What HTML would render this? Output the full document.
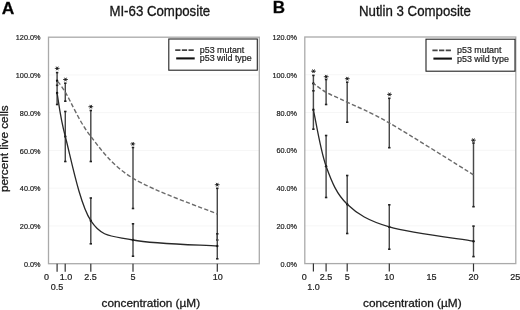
<!DOCTYPE html>
<html><head><meta charset="utf-8"><style>
html,body{margin:0;padding:0;background:#fff;width:520px;height:310px;overflow:hidden}
svg{display:block;font-family:"Liberation Sans", sans-serif;will-change:transform}
text{stroke:#222;stroke-width:0.3px}
text.yt{stroke-width:0.2px}
text.xt{stroke-width:0.22px}
text.lg{stroke-width:0.2px}
</style></head><body>
<svg width="520" height="310" viewBox="0 0 520 310">
<line x1="48.5" y1="225.95" x2="259.3" y2="225.95" stroke="#f6f6f6" stroke-width="1"/>
<line x1="48.5" y1="188.20" x2="259.3" y2="188.20" stroke="#f6f6f6" stroke-width="1"/>
<line x1="48.5" y1="150.45" x2="259.3" y2="150.45" stroke="#f6f6f6" stroke-width="1"/>
<line x1="48.5" y1="112.70" x2="259.3" y2="112.70" stroke="#f6f6f6" stroke-width="1"/>
<line x1="48.5" y1="74.95" x2="259.3" y2="74.95" stroke="#f6f6f6" stroke-width="1"/>
<rect x="48.50" y="37.20" width="210.80" height="226.50" fill="none" stroke="#aaaaaa" stroke-width="1.3"/>
<text class="yt" transform="translate(40.50,266.80) scale(1,1.1)" font-size="7.3" text-anchor="end" fill="#222">0.0%</text>
<text class="yt" transform="translate(40.50,229.05) scale(1,1.1)" font-size="7.3" text-anchor="end" fill="#222">20.0%</text>
<text class="yt" transform="translate(40.50,191.30) scale(1,1.1)" font-size="7.3" text-anchor="end" fill="#222">40.0%</text>
<text class="yt" transform="translate(40.50,153.55) scale(1,1.1)" font-size="7.3" text-anchor="end" fill="#222">60.0%</text>
<text class="yt" transform="translate(40.50,115.80) scale(1,1.1)" font-size="7.3" text-anchor="end" fill="#222">80.0%</text>
<text class="yt" transform="translate(40.50,78.05) scale(1,1.1)" font-size="7.3" text-anchor="end" fill="#222">100.0%</text>
<text class="yt" transform="translate(40.50,40.30) scale(1,1.1)" font-size="7.3" text-anchor="end" fill="#222">120.0%</text>
<line x1="57.10" y1="263.70" x2="57.10" y2="271.70" stroke="#333" stroke-width="1.2"/>
<line x1="65.20" y1="263.70" x2="65.20" y2="271.70" stroke="#333" stroke-width="1.2"/>
<line x1="90.80" y1="263.70" x2="90.80" y2="271.70" stroke="#333" stroke-width="1.2"/>
<line x1="133.00" y1="263.70" x2="133.00" y2="271.70" stroke="#333" stroke-width="1.2"/>
<line x1="217.30" y1="263.70" x2="217.30" y2="271.70" stroke="#333" stroke-width="1.2"/>
<text class="xt" x="46.60" y="280.00" font-size="9" text-anchor="middle" fill="#222">0</text>
<text class="xt" x="66.00" y="280.00" font-size="9" text-anchor="middle" fill="#222">1.0</text>
<text class="xt" x="90.60" y="280.00" font-size="9" text-anchor="middle" fill="#222">2.5</text>
<text class="xt" x="133.00" y="280.00" font-size="9" text-anchor="middle" fill="#222">5</text>
<text class="xt" x="217.80" y="280.00" font-size="9" text-anchor="middle" fill="#222">10</text>
<text class="xt" x="57.00" y="289.60" font-size="9" text-anchor="middle" fill="#222">0.5</text>
<line x1="57.10" y1="72.60" x2="57.10" y2="104.50" stroke="#484848" stroke-width="1.45"/>
<rect x="55.90" y="71.80" width="2.4" height="1.6" fill="#222"/>
<rect x="55.90" y="84.50" width="2.4" height="1.6" fill="#222"/>
<rect x="55.90" y="103.70" width="2.4" height="1.6" fill="#222"/>
<circle cx="57.10" cy="80.80" r="1.2" fill="#111"/>
<circle cx="57.10" cy="93.00" r="1.2" fill="#111"/>
<line x1="65.30" y1="83.20" x2="65.30" y2="101.20" stroke="#484848" stroke-width="1.45"/>
<rect x="64.10" y="82.40" width="2.4" height="1.6" fill="#222"/>
<rect x="64.10" y="100.40" width="2.4" height="1.6" fill="#222"/>
<line x1="65.30" y1="111.50" x2="65.30" y2="161.50" stroke="#484848" stroke-width="1.45"/>
<rect x="64.10" y="110.70" width="2.4" height="1.6" fill="#222"/>
<rect x="64.10" y="160.70" width="2.4" height="1.6" fill="#222"/>
<circle cx="65.30" cy="136.50" r="1.2" fill="#111"/>
<line x1="90.80" y1="110.50" x2="90.80" y2="161.50" stroke="#484848" stroke-width="1.45"/>
<rect x="89.60" y="109.70" width="2.4" height="1.6" fill="#222"/>
<rect x="89.60" y="160.70" width="2.4" height="1.6" fill="#222"/>
<line x1="90.80" y1="198.00" x2="90.80" y2="243.80" stroke="#484848" stroke-width="1.45"/>
<rect x="89.60" y="197.20" width="2.4" height="1.6" fill="#222"/>
<rect x="89.60" y="243.00" width="2.4" height="1.6" fill="#222"/>
<circle cx="90.80" cy="220.70" r="1.2" fill="#111"/>
<line x1="133.00" y1="147.50" x2="133.00" y2="208.50" stroke="#484848" stroke-width="1.45"/>
<rect x="131.80" y="146.70" width="2.4" height="1.6" fill="#222"/>
<rect x="131.80" y="207.70" width="2.4" height="1.6" fill="#222"/>
<line x1="133.00" y1="223.80" x2="133.00" y2="256.20" stroke="#484848" stroke-width="1.45"/>
<rect x="131.80" y="223.00" width="2.4" height="1.6" fill="#222"/>
<rect x="131.80" y="255.40" width="2.4" height="1.6" fill="#222"/>
<circle cx="133.00" cy="240.00" r="1.2" fill="#111"/>
<line x1="217.30" y1="188.30" x2="217.30" y2="240.00" stroke="#484848" stroke-width="1.45"/>
<rect x="216.10" y="187.50" width="2.4" height="1.6" fill="#222"/>
<rect x="216.10" y="239.20" width="2.4" height="1.6" fill="#222"/>
<line x1="217.30" y1="233.80" x2="217.30" y2="258.80" stroke="#484848" stroke-width="1.45"/>
<rect x="216.10" y="233.00" width="2.4" height="1.6" fill="#222"/>
<rect x="216.10" y="258.00" width="2.4" height="1.6" fill="#222"/>
<circle cx="217.30" cy="246.00" r="1.2" fill="#111"/>
<path d="M57.10,80.80 C58.47,82.70 59.68,82.92 65.30,92.20 C70.92,101.48 79.52,122.15 90.80,136.50 C102.08,150.85 111.92,165.38 133.00,178.30 C154.08,191.22 203.25,208.05 217.30,214.00" fill="none" stroke="#6a6a6a" stroke-width="1.4" stroke-dasharray="4.3 2.2" stroke-dashoffset="5.57"/>
<path d="M57.10,93.00 C58.47,100.25 59.68,115.22 65.30,136.50 C70.92,157.78 79.52,203.45 90.80,220.70 C102.08,237.95 111.92,235.78 133.00,240.00 C154.08,244.22 203.25,245.00 217.30,246.00" fill="none" stroke="#282828" stroke-width="1.3"/>
<g stroke="#3a3a3a" stroke-width="0.95">
<line x1="54.80" y1="68.40" x2="59.60" y2="68.40"/><line x1="56.15" y1="66.58" x2="58.25" y2="70.22"/><line x1="58.25" y1="66.58" x2="56.15" y2="70.22"/><circle cx="57.20" cy="68.40" r="1.0" fill="#1a1a1a" stroke="none"/>
<line x1="63.10" y1="79.50" x2="67.90" y2="79.50"/><line x1="64.45" y1="77.68" x2="66.55" y2="81.32"/><line x1="66.55" y1="77.68" x2="64.45" y2="81.32"/><circle cx="65.50" cy="79.50" r="1.0" fill="#1a1a1a" stroke="none"/>
<line x1="88.40" y1="106.70" x2="93.20" y2="106.70"/><line x1="89.75" y1="104.88" x2="91.85" y2="108.52"/><line x1="91.85" y1="104.88" x2="89.75" y2="108.52"/><circle cx="90.80" cy="106.70" r="1.0" fill="#1a1a1a" stroke="none"/>
<line x1="130.40" y1="143.90" x2="135.20" y2="143.90"/><line x1="131.75" y1="142.08" x2="133.85" y2="145.72"/><line x1="133.85" y1="142.08" x2="131.75" y2="145.72"/><circle cx="132.80" cy="143.90" r="1.0" fill="#1a1a1a" stroke="none"/>
<line x1="214.80" y1="184.70" x2="219.60" y2="184.70"/><line x1="216.15" y1="182.88" x2="218.25" y2="186.52"/><line x1="218.25" y1="182.88" x2="216.15" y2="186.52"/><circle cx="217.20" cy="184.70" r="1.0" fill="#1a1a1a" stroke="none"/>
</g>
<rect x="168.80" y="39.00" width="88.50" height="31.20" fill="#fff" stroke="#222" stroke-width="1.1"/>
<line x1="175.20" y1="50.20" x2="193.80" y2="50.20" stroke="#444" stroke-width="1.8" stroke-dasharray="5.25 1.4"/>
<line x1="176.20" y1="58.40" x2="194.70" y2="58.40" stroke="#111" stroke-width="2.1"/>
<text class="lg" transform="translate(199.80,52.50) scale(1,1.09)" font-size="8.9" fill="#222">p53 mutant</text>
<text class="lg" transform="translate(199.80,61.30) scale(1,1.09)" font-size="8.9" fill="#222">p53 wild type</text>
<text transform="translate(109.40,16.10) scale(1,1.05)" font-size="13.25" fill="#111">MI-63 Composite</text>
<text x="1.70" y="13.80" font-size="17.40" font-weight="bold" fill="#000">A</text>
<text x="150.80" y="307.20" font-size="11.8" text-anchor="middle" fill="#111">concentration (&#181;M)</text>
<line x1="304.8" y1="225.83" x2="515.8" y2="225.83" stroke="#f6f6f6" stroke-width="1"/>
<line x1="304.8" y1="188.07" x2="515.8" y2="188.07" stroke="#f6f6f6" stroke-width="1"/>
<line x1="304.8" y1="150.30" x2="515.8" y2="150.30" stroke="#f6f6f6" stroke-width="1"/>
<line x1="304.8" y1="112.53" x2="515.8" y2="112.53" stroke="#f6f6f6" stroke-width="1"/>
<line x1="304.8" y1="74.77" x2="515.8" y2="74.77" stroke="#f6f6f6" stroke-width="1"/>
<rect x="304.80" y="37.00" width="211.00" height="226.60" fill="none" stroke="#aaaaaa" stroke-width="1.3"/>
<text class="yt" transform="translate(297.10,266.70) scale(1,1.1)" font-size="7.3" text-anchor="end" fill="#222">0.0%</text>
<text class="yt" transform="translate(297.10,228.93) scale(1,1.1)" font-size="7.3" text-anchor="end" fill="#222">20.0%</text>
<text class="yt" transform="translate(297.10,191.17) scale(1,1.1)" font-size="7.3" text-anchor="end" fill="#222">40.0%</text>
<text class="yt" transform="translate(297.10,153.40) scale(1,1.1)" font-size="7.3" text-anchor="end" fill="#222">60.0%</text>
<text class="yt" transform="translate(297.10,115.63) scale(1,1.1)" font-size="7.3" text-anchor="end" fill="#222">80.0%</text>
<text class="yt" transform="translate(297.10,77.87) scale(1,1.1)" font-size="7.3" text-anchor="end" fill="#222">100.0%</text>
<text class="yt" transform="translate(297.10,40.10) scale(1,1.1)" font-size="7.3" text-anchor="end" fill="#222">120.0%</text>
<line x1="313.40" y1="263.60" x2="313.40" y2="271.60" stroke="#333" stroke-width="1.2"/>
<line x1="326.10" y1="263.60" x2="326.10" y2="271.60" stroke="#333" stroke-width="1.2"/>
<line x1="347.20" y1="263.60" x2="347.20" y2="271.60" stroke="#333" stroke-width="1.2"/>
<line x1="389.30" y1="263.60" x2="389.30" y2="271.60" stroke="#333" stroke-width="1.2"/>
<line x1="473.50" y1="263.60" x2="473.50" y2="271.60" stroke="#333" stroke-width="1.2"/>
<text class="xt" x="304.20" y="280.00" font-size="9" text-anchor="middle" fill="#222">0</text>
<text class="xt" x="326.10" y="280.00" font-size="9" text-anchor="middle" fill="#222">2.5</text>
<text class="xt" x="347.20" y="280.00" font-size="9" text-anchor="middle" fill="#222">5</text>
<text class="xt" x="389.30" y="280.00" font-size="9" text-anchor="middle" fill="#222">10</text>
<text class="xt" x="431.50" y="280.00" font-size="9" text-anchor="middle" fill="#222">15</text>
<text class="xt" x="473.50" y="280.00" font-size="9" text-anchor="middle" fill="#222">20</text>
<text class="xt" x="515.20" y="280.00" font-size="9" text-anchor="middle" fill="#222">25</text>
<text class="xt" x="313.60" y="289.60" font-size="9" text-anchor="middle" fill="#222">1.0</text>
<line x1="313.40" y1="75.40" x2="313.40" y2="129.20" stroke="#484848" stroke-width="1.45"/>
<rect x="312.20" y="74.60" width="2.4" height="1.6" fill="#222"/>
<rect x="312.20" y="90.00" width="2.4" height="1.6" fill="#222"/>
<rect x="312.20" y="128.40" width="2.4" height="1.6" fill="#222"/>
<circle cx="313.40" cy="83.40" r="1.2" fill="#111"/>
<circle cx="313.40" cy="109.80" r="1.2" fill="#111"/>
<line x1="326.10" y1="79.50" x2="326.10" y2="104.50" stroke="#484848" stroke-width="1.45"/>
<rect x="324.90" y="78.70" width="2.4" height="1.6" fill="#222"/>
<rect x="324.90" y="103.70" width="2.4" height="1.6" fill="#222"/>
<line x1="326.10" y1="135.50" x2="326.10" y2="197.50" stroke="#484848" stroke-width="1.45"/>
<rect x="324.90" y="134.70" width="2.4" height="1.6" fill="#222"/>
<rect x="324.90" y="196.70" width="2.4" height="1.6" fill="#222"/>
<circle cx="326.10" cy="166.30" r="1.2" fill="#111"/>
<line x1="347.20" y1="82.20" x2="347.20" y2="122.20" stroke="#484848" stroke-width="1.45"/>
<rect x="346.00" y="81.40" width="2.4" height="1.6" fill="#222"/>
<rect x="346.00" y="121.40" width="2.4" height="1.6" fill="#222"/>
<line x1="347.20" y1="175.50" x2="347.20" y2="233.50" stroke="#484848" stroke-width="1.45"/>
<rect x="346.00" y="174.70" width="2.4" height="1.6" fill="#222"/>
<rect x="346.00" y="232.70" width="2.4" height="1.6" fill="#222"/>
<circle cx="347.20" cy="204.20" r="1.2" fill="#111"/>
<line x1="389.30" y1="98.30" x2="389.30" y2="147.70" stroke="#484848" stroke-width="1.45"/>
<rect x="388.10" y="97.50" width="2.4" height="1.6" fill="#222"/>
<rect x="388.10" y="146.90" width="2.4" height="1.6" fill="#222"/>
<line x1="389.30" y1="204.80" x2="389.30" y2="249.20" stroke="#484848" stroke-width="1.45"/>
<rect x="388.10" y="204.00" width="2.4" height="1.6" fill="#222"/>
<rect x="388.10" y="248.40" width="2.4" height="1.6" fill="#222"/>
<circle cx="389.30" cy="226.90" r="1.2" fill="#111"/>
<line x1="473.50" y1="143.00" x2="473.50" y2="206.70" stroke="#484848" stroke-width="1.45"/>
<rect x="472.30" y="142.20" width="2.4" height="1.6" fill="#222"/>
<rect x="472.30" y="205.90" width="2.4" height="1.6" fill="#222"/>
<line x1="473.50" y1="226.10" x2="473.50" y2="256.60" stroke="#484848" stroke-width="1.45"/>
<rect x="472.30" y="225.30" width="2.4" height="1.6" fill="#222"/>
<rect x="472.30" y="255.80" width="2.4" height="1.6" fill="#222"/>
<circle cx="473.50" cy="241.20" r="1.2" fill="#111"/>
<path d="M313.40,83.40 C315.52,84.88 320.47,89.17 326.10,92.30 C331.73,95.43 336.67,97.08 347.20,102.20 C357.73,107.32 368.25,110.90 389.30,123.00 C410.35,135.10 459.47,166.17 473.50,174.80" fill="none" stroke="#6a6a6a" stroke-width="1.4" stroke-dasharray="4.3 2.2" stroke-dashoffset="1.45"/>
<path d="M313.40,109.80 C315.52,119.22 320.47,150.57 326.10,166.30 C331.73,182.03 336.67,194.10 347.20,204.20 C357.73,214.30 368.25,220.73 389.30,226.90 C410.35,233.07 459.47,238.82 473.50,241.20" fill="none" stroke="#282828" stroke-width="1.3"/>
<g stroke="#3a3a3a" stroke-width="0.95">
<line x1="311.10" y1="71.20" x2="315.90" y2="71.20"/><line x1="312.45" y1="69.38" x2="314.55" y2="73.02"/><line x1="314.55" y1="69.38" x2="312.45" y2="73.02"/><circle cx="313.50" cy="71.20" r="1.0" fill="#1a1a1a" stroke="none"/>
<line x1="323.80" y1="76.70" x2="328.60" y2="76.70"/><line x1="325.15" y1="74.88" x2="327.25" y2="78.52"/><line x1="327.25" y1="74.88" x2="325.15" y2="78.52"/><circle cx="326.20" cy="76.70" r="1.0" fill="#1a1a1a" stroke="none"/>
<line x1="344.90" y1="78.70" x2="349.70" y2="78.70"/><line x1="346.25" y1="76.88" x2="348.35" y2="80.52"/><line x1="348.35" y1="76.88" x2="346.25" y2="80.52"/><circle cx="347.30" cy="78.70" r="1.0" fill="#1a1a1a" stroke="none"/>
<line x1="387.10" y1="94.40" x2="391.90" y2="94.40"/><line x1="388.45" y1="92.58" x2="390.55" y2="96.22"/><line x1="390.55" y1="92.58" x2="388.45" y2="96.22"/><circle cx="389.50" cy="94.40" r="1.0" fill="#1a1a1a" stroke="none"/>
<line x1="471.00" y1="140.20" x2="475.80" y2="140.20"/><line x1="472.35" y1="138.38" x2="474.45" y2="142.02"/><line x1="474.45" y1="138.38" x2="472.35" y2="142.02"/><circle cx="473.40" cy="140.20" r="1.0" fill="#1a1a1a" stroke="none"/>
</g>
<rect x="426.00" y="39.20" width="89.00" height="32.00" fill="#fff" stroke="#222" stroke-width="1.1"/>
<line x1="432.40" y1="50.40" x2="451.00" y2="50.40" stroke="#444" stroke-width="1.8" stroke-dasharray="5.25 1.4"/>
<line x1="433.40" y1="58.60" x2="451.90" y2="58.60" stroke="#111" stroke-width="2.1"/>
<text class="lg" transform="translate(457.00,52.70) scale(1,1.09)" font-size="8.9" fill="#222">p53 mutant</text>
<text class="lg" transform="translate(457.00,61.50) scale(1,1.09)" font-size="8.9" fill="#222">p53 wild type</text>
<text transform="translate(359.00,15.80) scale(1,1.05)" font-size="13.25" fill="#111">Nutlin 3 Composite</text>
<text x="272.80" y="12.70" font-size="17.00" font-weight="bold" fill="#000">B</text>
<text x="412.30" y="307.20" font-size="11.8" text-anchor="middle" fill="#111">concentration (&#181;M)</text>
<text transform="translate(8.40,148.70) rotate(-90)" font-size="11.75" text-anchor="middle" fill="#111">percent live cells</text>
</svg>
</body></html>
